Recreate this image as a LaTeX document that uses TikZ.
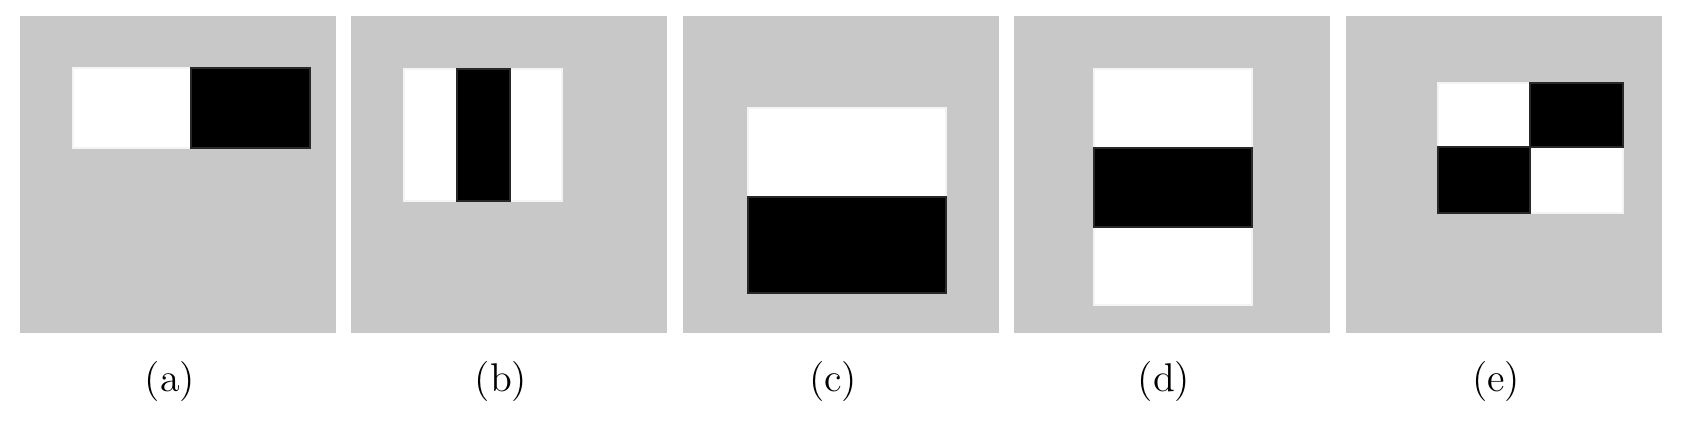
\documentclass[tikz,border=0pt]{standalone}
\usetikzlibrary{positioning}
\definecolor{bggray}{RGB}{200,200,200}

\begin{document}
\begin{tikzpicture}[
    x=0.01cm, y=-0.01cm,
    font=\fontsize{11.4}{13.5}\selectfont,
    panel/.style={
        fill=bggray
    },
    whitebar/.style={
        fill=white,
        draw=white!80!bggray,
        line width=0.3pt
    },
    blackbar/.style={
        fill=black,
        draw=black!80!bggray,
        line width=0.3pt
    },
    caption/.style={
        anchor=base
    }
]
\useasboundingbox (0,0) rectangle (1682,422);

% (a): two blocks side by side
\begin{scope}[shift={(20,0)}]
    \fill[panel] (0,16) rectangle (316,333);
    \draw[whitebar] (53,68) rectangle (171,148);
    \draw[blackbar] (171,68) rectangle (290,148);
    \node[caption] (capa) at (150,392) {(a)};
\end{scope}

% (b): three vertical stripes
\begin{scope}[shift={(351,0)}]
    \fill[panel] (0,16) rectangle (316,333);
    \draw[whitebar] (53,69) rectangle (106,201);
    \draw[whitebar] (159,69) rectangle (211,201);
    \draw[blackbar] (106,69) rectangle (159,201);
    \node[caption] (capb) at (150,392) {(b)};
\end{scope}

% (c): two blocks stacked
\begin{scope}[shift={(683,0)}]
    \fill[panel] (0,16) rectangle (316,333);
    \draw[whitebar] (65,108) rectangle (263,197);
    \draw[blackbar] (65,197) rectangle (263,293);
    \node[caption] (capc) at (150,392) {(c)};
\end{scope}

% (d): three horizontal stripes
\begin{scope}[shift={(1014,0)}]
    \fill[panel] (0,16) rectangle (316,333);
    \draw[whitebar] (80,69) rectangle (238,148);
    \draw[whitebar] (80,227) rectangle (238,305);
    \draw[blackbar] (80,148) rectangle (238,227);
    \node[caption] (capd) at (150,392) {(d)};
\end{scope}

% (e): checkerboard of four blocks
\begin{scope}[shift={(1346,0)}]
    \fill[panel] (0,16) rectangle (316,333);
    \draw[whitebar] (92,83) rectangle (184,147);
    \draw[whitebar] (184,147) rectangle (277,213);
    \draw[blackbar] (184,83) rectangle (277,147);
    \draw[blackbar] (92,147) rectangle (184,213);
    \node[caption] (cape) at (150,392) {(e)};
\end{scope}

\end{tikzpicture}
\end{document}
